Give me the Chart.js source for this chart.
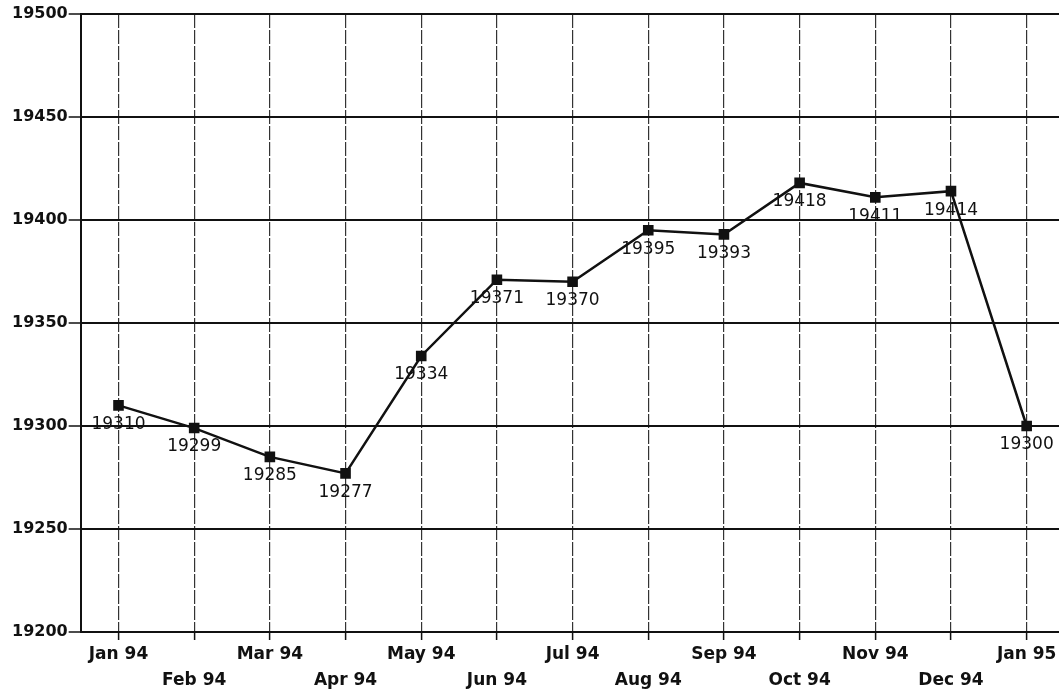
<!DOCTYPE html>
<html>
<head>
<meta charset="utf-8">
<script src="https://cdn.jsdelivr.net/npm/chart.js@4"></script>
<style>
  html, body { margin: 0; padding: 0; background: #fff; overflow: hidden; }
  #wrap { position: relative; width: 1072px; height: 690px; }
</style>
</head>
<body>
<div id="wrap"><canvas id="c"></canvas></div>
<script>
const categories = ["Jan 94","Feb 94","Mar 94","Apr 94","May 94","Jun 94","Jul 94","Aug 94","Sep 94","Oct 94","Nov 94","Dec 94","Jan 95"];
const values = [19310, 19299, 19285, 19277, 19334, 19371, 19370, 19395, 19393, 19418, 19411, 19414, 19300];
const yTicks = [19200, 19250, 19300, 19350, 19400, 19450, 19500];

const valueLabels = {
  id: 'valueLabels',
  afterDatasetsDraw(chart) {
    const ctx = chart.ctx;
    const meta = chart.getDatasetMeta(0);
    ctx.save();
    ctx.font = '17px "DejaVu Sans"';
    ctx.fillStyle = '#111';
    ctx.textAlign = 'center';
    ctx.textBaseline = 'middle';
    meta.data.forEach((pt, i) => {
      ctx.fillText(String(values[i]), pt.x, pt.y + 19);
    });
    ctx.restore();
  }
};

new Chart(document.getElementById('c'), {
  type: 'line',
  data: {
    labels: categories,
    datasets: [{
      data: values,
      borderColor: '#111',
      borderWidth: 2.5,
      backgroundColor: '#111',
      pointStyle: 'rect',
      pointRadius: 7.5,
      pointBorderWidth: 0,
      pointBackgroundColor: '#111',
      tension: 0,
      fill: false
    }]
  },
  options: {
    responsive: true,
    maintainAspectRatio: false,
    animation: false,
    layout: { padding: { left: 11, top: 14, right: 0, bottom: -5 } },
    plugins: { legend: { display: false }, tooltip: { enabled: false } },
    scales: {
      x: {
        type: 'category',
        offset: true,
        grid: {
          offset: false,
          color: '#333',
          lineWidth: 1.2,
          tickBorderDash: [],
          tickLength: 8,
          tickWidth: 1.5,
          tickColor: '#111'
        },
        border: { display: true, color: '#111', width: 2, dash: [14, 2] },
        ticks: {
          autoSkip: false,
          maxRotation: 0,
          padding: 2,
          color: '#111',
          font: { family: '"DejaVu Sans"', size: 17, weight: 'bold', lineHeight: 1.5 },
          callback: function(val, idx) {
            const l = categories[idx];
            return idx % 2 === 0 ? [l, ''] : ['', l];
          }
        }
      },
      y: {
        min: 19200,
        max: 19500,
        afterBuildTicks: (axis) => { axis.ticks = yTicks.map(v => ({ value: v })); },
        grid: {
          color: '#111',
          lineWidth: 2,
          tickLength: 12,
          tickColor: '#111',
          tickWidth: 1.5
        },
        border: { display: true, color: '#111', width: 2 },
        ticks: {
          padding: 1,
          color: '#111',
          font: { family: '"DejaVu Sans"', size: 16, weight: 'bold' },
          callback: (v) => String(v)
        }
      }
    }
  },
  plugins: [valueLabels]
});
</script>
</body>
</html>
